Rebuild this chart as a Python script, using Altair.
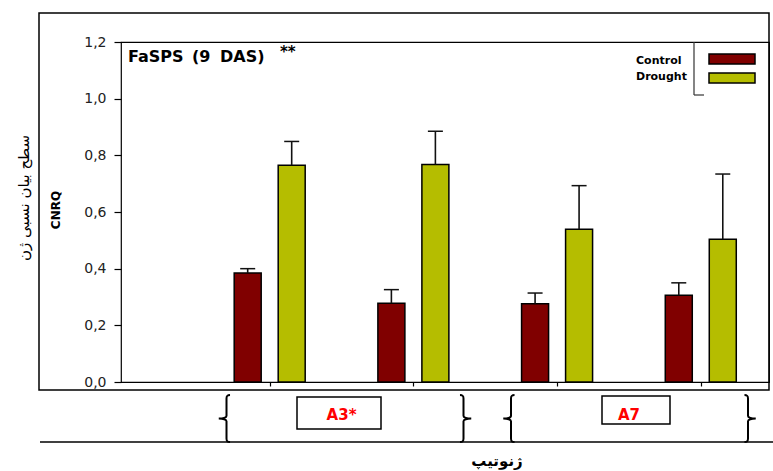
import altair as alt
import pandas as pd

# ---- data ----
groups = [1, 2, 3, 4]
genotypes = ["A3*", "A3*", "A7", "A7"]
conditions = ["Control", "Drought"]
control_mean = [0.385, 0.278, 0.276, 0.306]
control_se = [0.015, 0.048, 0.038, 0.044]
drought_mean = [0.765, 0.768, 0.539, 0.504]
drought_se = [0.084, 0.117, 0.154, 0.230]
y_ticks = [0.0, 0.2, 0.4, 0.6, 0.8, 1.0, 1.2]
colors = ["#800000", "#B5BD00"]

rows = []
for cond, means, ses in [("Control", control_mean, control_se), ("Drought", drought_mean, drought_se)]:
    for g, gt, m, s in zip(groups, genotypes, means, ses):
        rows.append({"group": g, "genotype": gt, "condition": cond, "value": m, "se": s})
df = pd.DataFrame(rows)

xs = alt.Scale(domain=[0, 4.44], nice=False, zero=False)
ys = alt.Scale(domain=[0, 1.2], nice=False)
xaxis = alt.Axis(values=groups, labels=False, tickSize=4, tickColor="black", tickWidth=1.2,
                 domain=False, grid=False, title=None)
yaxis = alt.Axis(values=y_ticks, labelExpr="replace(format(datum.value, '.1f'), '.', ',')",
                 tickSize=7, tickColor="black", tickWidth=1.2, labelPadding=8,
                 labelFont="DejaVu Sans", labelFontSize=14, labelColor="#222",
                 domain=False, grid=False, title=None)
X = alt.X("group:Q", scale=xs, axis=xaxis)
Y = alt.Y("value:Q", scale=ys, axis=yaxis)

base = alt.Chart(df)


def cond_layers(cond, off):
    b = base.transform_filter(alt.datum.condition == cond)
    bars = b.mark_bar(width=27, xOffset=off, stroke="black", strokeWidth=1.5).encode(
        x=X, y=Y,
        color=alt.Color("condition:N", scale=alt.Scale(domain=conditions, range=colors), legend=None),
    )
    bt = b.transform_calculate(top="datum.value + datum.se")
    err = bt.mark_rule(xOffset=off, color="#111", strokeWidth=1.6).encode(
        x=X, y=Y, y2="top:Q")
    cap = bt.mark_tick(orient="horizontal", size=15, thickness=1.5, xOffset=off, color="#111",
                       opacity=1).encode(
        x=X, y=alt.Y("top:Q", scale=ys, axis=yaxis))
    return [bars, err, cap]


one = alt.Data(values=[{"k": 0}])


def rect(x, x2, y, y2, sw=1.5, fill=None, stroke="black"):
    kw = dict(stroke=stroke, strokeWidth=sw)
    if fill is None:
        kw["fillOpacity"] = 0
        kw["fill"] = "white"
    else:
        kw["fill"] = fill
    return alt.Chart(one).mark_rect(**kw).encode(
        x=alt.value(x), x2=alt.value(x2), y=alt.value(y), y2=alt.value(y2))


def line(x, x2, y, y2, sw=1.5, color="black"):
    return alt.Chart(one).mark_rule(color=color, strokeWidth=sw).encode(
        x=alt.value(x), x2=alt.value(x2), y=alt.value(y), y2=alt.value(y2))


def txt(s, x, y, size, bold=False, color="black", font="DejaVu Sans", align="left",
        angle=0, baseline="alphabetic"):
    return alt.Chart(one).mark_text(text=s, align=align, baseline=baseline, font=font,
                                    fontSize=size, fontWeight="bold" if bold else "normal",
                                    color=color, angle=angle).encode(
        x=alt.value(x), y=alt.value(y))


LBRACE = ("M 0.15 -1 C 0.02 -1 0 -0.95 0 -0.85 L 0 -0.12 C 0 -0.04 -0.15 0 -0.33 0 "
          "C -0.15 0 0 0.04 0 0.12 L 0 0.85 C 0 0.95 0.02 1 0.15 1")
RBRACE = ("M -0.15 -1 C -0.02 -1 0 -0.95 0 -0.85 L 0 -0.12 C 0 -0.04 0.15 0 0.33 0 "
          "C 0.15 0 0 0.04 0 0.12 L 0 0.85 C 0 0.95 -0.02 1 -0.15 1")


def brace(shape, x, y=376.5):
    return alt.Chart(one).mark_point(shape=shape, size=2209, filled=False, strokeWidth=2,
                                     color="black", opacity=1).encode(
        x=alt.value(x), y=alt.value(y))


layers = []
# frames
layers.append(rect(-82, 648, -29, 348, sw=1.5))
layers.append(line(-81, 652, 400, 400, sw=1.5))
# legend box lines
layers.append(line(573, 573, 0, 53, sw=1.2, color="#333"))
layers.append(line(573, 583, 53, 53, sw=1.2, color="#333"))

layers += cond_layers("Control", -22)
layers += cond_layers("Drought", 22)

# title
layers.append(txt("FaSPS", 7, 20, 16, bold=True))
layers.append(txt("(9", 71, 20, 16, bold=True))
layers.append(txt("DAS)", 99, 20, 16, bold=True))
layers.append(txt("**", 159, 15, 15, bold=True))

# legend
layers.append(txt("Control", 515, 22, 11, bold=True))
layers.append(txt("Drought", 515, 38, 11, bold=True))
layers.append(rect(588, 634, 12, 22, sw=1.5, fill=colors[0]))
layers.append(rect(588, 634, 31, 41, sw=1.5, fill=colors[1]))

# y titles
layers.append(txt("سطح بیان نسبی ژن", -97, 156, 15, angle=270, align="center", baseline="middle"))
layers.append(txt("CNRQ", -65, 168, 12, bold=True, angle=270, align="center", baseline="middle"))

# genotype braces and boxes
layers.append(brace(LBRACE, 105.5))
layers.append(brace(RBRACE, 342.5))
layers.append(brace(LBRACE, 390))
layers.append(brace(RBRACE, 627))
layers.append(rect(176, 260, 355, 387, sw=1.5))
layers.append(rect(481, 549, 354, 382, sw=1.5))
geno = base.transform_aggregate(center="mean(group)", groupby=["genotype"]).mark_text(
    font="DejaVu Sans", fontSize=15, fontWeight="bold", color="#FF0000",
    baseline="alphabetic", align="center").encode(
    x=alt.X("center:Q", scale=xs, axis=xaxis), y=alt.value(378), text="genotype:N")
layers.append(geno)

# x title
layers.append(txt("ژنوتیپ", 376, 424, 15, bold=True, align="center"))

chart = alt.layer(*layers).properties(
    width=648, height=340,
    autosize=alt.AutoSizeParams(type="none"),
    padding={"left": 121, "top": 42, "right": 4, "bottom": 89},
).configure_view(stroke="black", strokeWidth=1.2)

chart.save("out.html", embed_options={"renderer": "svg", "actions": False})
